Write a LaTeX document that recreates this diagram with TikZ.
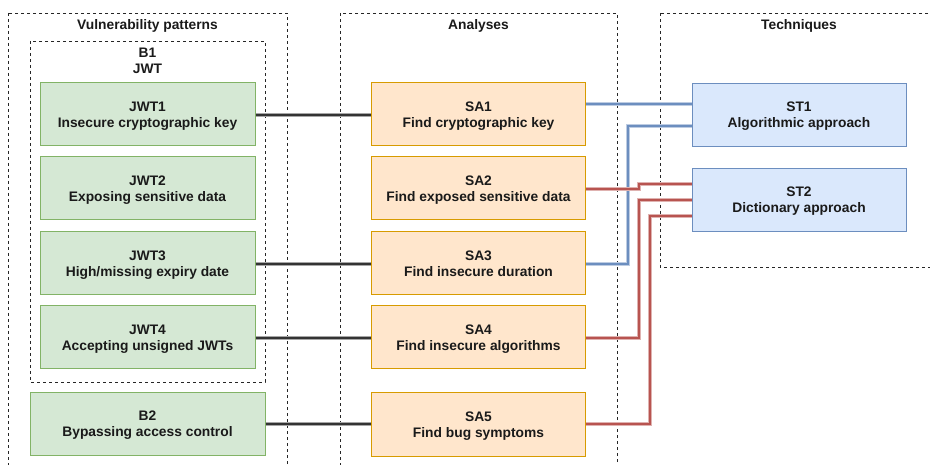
\documentclass[tikz,border=0pt]{standalone}
\usepackage{fontspec}
\setmainfont{Liberation Sans}
\usetikzlibrary{calc}

\definecolor{greenfill}{HTML}{D5E8D4}
\definecolor{greenline}{HTML}{82B366}
\definecolor{orangefill}{HTML}{FFE6CC}
\definecolor{orangeline}{HTML}{D79B00}
\definecolor{bluefill}{HTML}{DAE8FC}
\definecolor{blueline}{HTML}{6C8EBF}
\definecolor{redline}{HTML}{B85450}
\definecolor{textdark}{HTML}{1A1A1A}

\begin{document}
\begin{tikzpicture}[x=1pt,y=-1pt,
  every node/.style={font=\fontsize{13.8}{16}\selectfont\bfseries, text=textdark, align=center},
  container/.style={draw=black!85, line width=0.9pt, dash pattern=on 3pt off 3pt},
  boxbase/.style={line width=1pt, inner sep=0pt, minimum width=214pt, minimum height=63pt, text depth=-2.5pt},
  vpbox/.style={boxbase, draw=greenline, fill=greenfill},
  sabox/.style={boxbase, draw=orangeline, fill=orangefill},
  stbox/.style={boxbase, draw=blueline, fill=bluefill},
  title/.style={inner sep=0pt, anchor=base},
  plainlink/.style={preaction={draw=black!35, line width=3.4pt}, draw=black!80, line width=2pt},
  bluelink/.style={preaction={draw=blueline!45, line width=3.2pt}, draw=blueline, line width=1.5pt},
  redlink/.style={preaction={draw=redline!45, line width=3.2pt}, draw=redline, line width=1.5pt},
]
\useasboundingbox (0,0) rectangle (930,465);
\clip (0,0) rectangle (930,465);
\fill[white] (0,0) rectangle (930,465);

% Grouping frames
\draw[container] (8,13) rectangle (287,480);
\draw[container] (340,13) rectangle (617,480);
\draw[container] (660,13) rectangle (945,267);
\draw[container] (30,41) rectangle (265,382);

\node[title] (tvp) at (147.5,29.5) {Vulnerability patterns};
\node[title] (tan) at (478.5,29.5) {Analyses};
\node[title] (tte) at (799,29.5) {Techniques};
\node[title] (tb1) at (147.5,57.5) {B1};
\node[title] (tjwt) at (147.5,74) {JWT};

% Vulnerability patterns
\node[vpbox, minimum width=215pt] (jwt1) at (147.5,114.5) {JWT1\\Insecure cryptographic key};
\node[vpbox, minimum width=215pt] (jwt2) at (147.5,188.5) {JWT2\\Exposing sensitive data};
\node[vpbox, minimum width=215pt] (jwt3) at (147.5,263.5) {JWT3\\High/missing expiry date};
\node[vpbox, minimum width=215pt] (jwt4) at (147.5,337.5) {JWT4\\Accepting unsigned JWTs};
\node[vpbox, minimum width=235pt] (b2) at (147.5,424) {B2\\Bypassing access control};

% Analyses
\node[sabox] (sa1) at (478.5,114.5) {SA1\\Find cryptographic key};
\node[sabox] (sa2) at (478.5,188.5) {SA2\\Find exposed sensitive data};
\node[sabox] (sa3) at (478.5,263.5) {SA3\\Find insecure duration};
\node[sabox] (sa4) at (478.5,337.5) {SA4\\Find insecure algorithms};
\node[sabox, minimum height=64pt] (sa5) at (478.5,424.5) {SA5\\Find bug symptoms};

% Techniques
\node[stbox] (st1) at (799,115) {ST1\\Algorithmic approach};
\node[stbox] (st2) at (799,200) {ST2\\Dictionary approach};

% Pattern -> analysis links
\draw[plainlink] (jwt1.east |- 0,115) -- (sa1.west |- 0,115);
\draw[plainlink] (jwt3.east |- 0,264) -- (sa3.west |- 0,264);
\draw[plainlink] (jwt4.east |- 0,338) -- (sa4.west |- 0,338);
\draw[plainlink] (b2.east |- 0,424) -- (sa5.west |- 0,424);

% Analysis -> technique links
\draw[bluelink] (sa1.east |- 0,104) -- (st1.west |- 0,104);
\draw[bluelink] (sa3.east |- 0,264) -| (628,126) -- (st1.west |- 0,126);
\draw[redlink] (sa2.east |- 0,189) -| (639,184) -- (st2.west |- 0,184);
\draw[redlink] (sa4.east |- 0,338) -| (639,200) -- (st2.west |- 0,200);
\draw[redlink] (sa5.east |- 0,424) -| (650,216) -- (st2.west |- 0,216);
\end{tikzpicture}
\end{document}
